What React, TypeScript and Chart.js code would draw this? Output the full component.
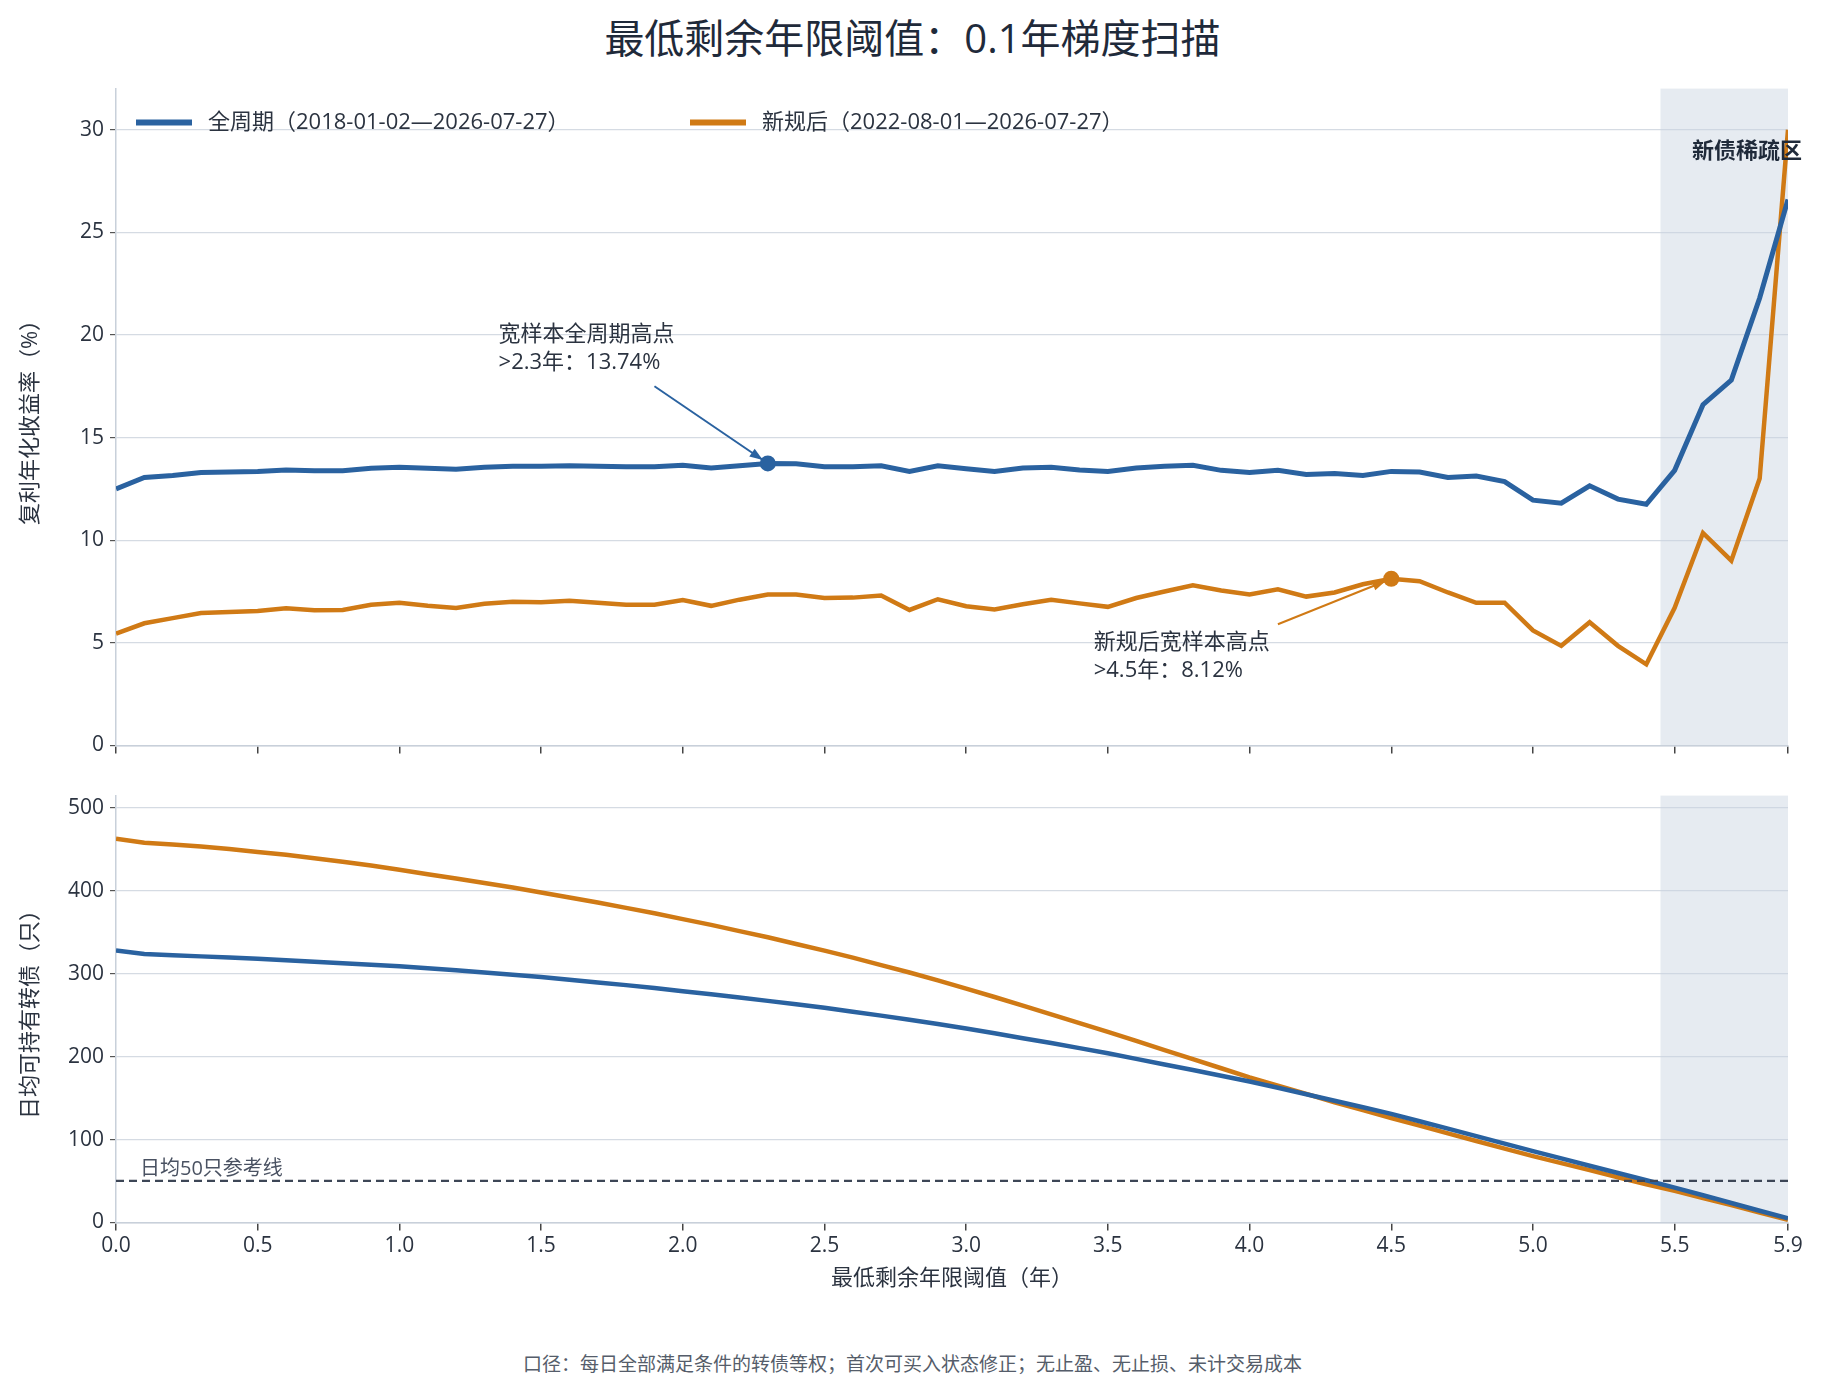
import React, { useEffect, useRef } from "react";
import { Chart, registerables } from "chart.js";
Chart.register(...registerables);

const xs = Array.from({ length: 60 }, (_, i) => i / 10);
const fullReturn = [12.5,13.05,13.15,13.3,13.32,13.35,13.42,13.38,13.38,13.5,13.55,13.5,13.45,13.55,13.6,13.6,13.62,13.6,13.58,13.58,13.65,13.52,13.62,13.74,13.72,13.58,13.58,13.62,13.35,13.62,13.48,13.35,13.52,13.55,13.42,13.35,13.52,13.6,13.65,13.4,13.3,13.4,13.2,13.25,13.15,13.35,13.32,13.05,13.12,12.85,11.95,11.8,12.65,12.0,11.75,13.4,16.6,17.8,21.8,26.6];
const newReturn = [5.45,5.95,6.2,6.45,6.5,6.55,6.68,6.58,6.6,6.85,6.95,6.8,6.7,6.9,7.0,6.97,7.05,6.95,6.85,6.85,7.08,6.8,7.1,7.35,7.35,7.18,7.2,7.3,6.6,7.12,6.78,6.62,6.88,7.1,6.92,6.75,7.18,7.5,7.8,7.55,7.35,7.6,7.25,7.45,7.85,8.12,8.0,7.45,6.95,6.95,5.6,4.85,6.0,4.85,3.95,6.7,10.35,9.0,13.0,30.0];
const fullCount = [328,324,322.5,321,319.5,318,316.3,314.5,312.7,310.9,309,306.6,304.2,301.6,298.9,296,292.8,289.6,286.3,282.8,279,275.2,271.3,267.3,263.2,259,254.3,249.5,244.6,239.4,234,228.2,222.3,216.4,210.3,204,197.3,190.6,183.8,176.9,170,162.4,154.6,146.8,139,131,122.1,113.1,104.1,95.1,86,77.2,68.3,59.6,50.8,42,32.8,23.4,14.1,5];
const newCount = [463,458,456,453.5,450.5,447,443.5,439.5,435.3,430.6,425.5,420,415,409.5,404,398,392,386,379.5,373,366,359,351.5,344,336,328,319.5,310.5,301.5,292,282,272,261.5,251,240.5,230,219,208,197,186,175,165,155,145,135.5,126,116.8,107.5,98.2,89,80,71.5,63,54.5,46,38,29.5,21,12,3];
const xTicks = [0,0.5,1,1.5,2,2.5,3,3.5,4,4.5,5,5.5,5.9];
const yTicksTop = [0,5,10,15,20,25,30];
const yTicksBottom = [0,100,200,300,400,500];
const sparseStart = 5.45;

const BLUE = "#2a62a0";
const ORANGE = "#d07a15";
const FONT = "'Open Sans', 'Noto Sans CJK SC', sans-serif";
const TXT = "#2b3340";
const GRID = "#d5dbe3";

function pts(v: number[]) { return v.map((y, i) => ({ x: xs[i], y })); }

const shade = {
  id: "shade",
  beforeDatasetsDraw(c: any) {
    const { ctx, chartArea: a, scales } = c;
    const x0 = scales.x.getPixelForValue(sparseStart);
    ctx.save();
    ctx.fillStyle = "rgba(200,210,225,0.45)";
    ctx.fillRect(x0, a.top, a.right - x0, a.bottom - a.top);
    ctx.restore();
  },
};

function xScale(showLabels: boolean) {
  return {
    type: "linear", min: 0, max: 5.9,
    afterBuildTicks: (s: any) => { s.ticks = xTicks.map((v) => ({ value: v })); },
    grid: { display: true, drawOnChartArea: false, drawTicks: true, tickLength: 8, color: "#444", lineWidth: 1.5 },
    border: { color: "#c8d0da", width: 1.5 },
    ticks: { display: showLabels, autoSkip: false, maxRotation: 0, color: TXT, font: { family: FONT, size: 21 }, callback: (v: any) => Number(v).toFixed(1) },
    title: showLabels ? { display: true, text: "最低剩余年限阈值（年）", color: TXT, font: { family: FONT, size: 22 }, padding: { top: 4 } } : { display: false },
  };
}
function yScale(min: number, max: number, ticks: number[], title: string) {
  return {
    min, max,
    afterBuildTicks: (s: any) => { s.ticks = ticks.map((v) => ({ value: v })); },
    afterFit: (s: any) => { s.width = 98; },
    ticks: { color: TXT, font: { family: FONT, size: 21 }, padding: 6 },
    grid: { color: GRID, lineWidth: 1.2, tickLength: 6, tickColor: "#555" },
    border: { color: "#c8d0da", width: 1.5 },
    title: { display: true, text: title, color: TXT, font: { family: FONT, size: 22 }, padding: 0 },
  };
}

const topDeco = {
  id: "topDeco",
  afterDatasetsDraw(c: any) {
    const { ctx, chartArea: a, scales: { x, y } } = c;
    ctx.save();
    ctx.font = `22px ${FONT}`;
    ctx.textBaseline = "middle";
    const ly = a.top + 34;
    ctx.lineWidth = 6;
    ctx.strokeStyle = BLUE; ctx.beginPath(); ctx.moveTo(a.left + 20, ly); ctx.lineTo(a.left + 76, ly); ctx.stroke();
    ctx.fillStyle = TXT; ctx.fillText("全周期（2018-01-02—2026-07-27）", a.left + 92, ly);
    const l2 = a.left + 574;
    ctx.strokeStyle = ORANGE; ctx.beginPath(); ctx.moveTo(l2, ly); ctx.lineTo(l2 + 56, ly); ctx.stroke();
    ctx.fillText("新规后（2022-08-01—2026-07-27）", l2 + 72, ly);
    ctx.font = `bold 22px ${FONT}`;
    ctx.textAlign = "right";
    ctx.fillStyle = "#1f2a3a";
    ctx.fillText("新债稀疏区", a.right + 14, y.getPixelForValue(28.9));
    const annot = (xv: number, yv: number, color: string, tx: number, ty: number, lines: string[], ax: number, ay: number) => {
      const px = x.getPixelForValue(xv), py = y.getPixelForValue(yv);
      const sx = x.getPixelForValue(ax), sy = y.getPixelForValue(ay);
      ctx.strokeStyle = color; ctx.fillStyle = color; ctx.lineWidth = 2;
      const ang = Math.atan2(py - sy, px - sx);
      const ex = px - Math.cos(ang) * 6, ey = py - Math.sin(ang) * 6;
      ctx.beginPath(); ctx.moveTo(sx, sy); ctx.lineTo(ex, ey); ctx.stroke();
      ctx.beginPath();
      ctx.moveTo(ex, ey);
      ctx.lineTo(ex - Math.cos(ang - 0.35) * 14, ey - Math.sin(ang - 0.35) * 14);
      ctx.lineTo(ex - Math.cos(ang + 0.35) * 14, ey - Math.sin(ang + 0.35) * 14);
      ctx.closePath(); ctx.fill();
      ctx.beginPath(); ctx.arc(px, py, 8, 0, Math.PI * 2); ctx.fill();
      ctx.fillStyle = TXT; ctx.font = `22px ${FONT}`; ctx.textAlign = "left"; ctx.textBaseline = "middle";
      lines.forEach((l, i) => ctx.fillText(l, x.getPixelForValue(tx), y.getPixelForValue(ty) + i * 28));
    };
    annot(2.3, 13.74, BLUE, 1.35, 20.0, ["宽样本全周期高点", ">2.3年：13.74%"], 1.9, 17.5);
    annot(4.5, 8.12, ORANGE, 3.45, 5.0, ["新规后宽样本高点", ">4.5年：8.12%"], 4.1, 5.9);
    ctx.restore();
  },
};

const botDeco = {
  id: "botDeco",
  afterDatasetsDraw(c: any) {
    const { ctx, chartArea: a, scales: { y } } = c;
    const py = y.getPixelForValue(50);
    ctx.save();
    ctx.strokeStyle = "#3d4656"; ctx.lineWidth = 2.2; ctx.setLineDash([8, 5]);
    ctx.beginPath(); ctx.moveTo(a.left, py); ctx.lineTo(a.right, py); ctx.stroke();
    ctx.setLineDash([]);
    ctx.fillStyle = "#4a5262"; ctx.font = `20px ${FONT}`; ctx.textBaseline = "bottom";
    ctx.fillText("日均50只参考线", a.left + 24, py - 2);
    ctx.restore();
  },
};

function ds(label: string, data: number[], color: string, w: number) {
  return { label, data: pts(data), borderColor: color, backgroundColor: color, borderWidth: w, pointRadius: 0, tension: 0, fill: false };
}

export default function App() {
  const r1 = useRef<HTMLCanvasElement>(null);
  const r2 = useRef<HTMLCanvasElement>(null);
  useEffect(() => {
    const c1 = new Chart(r1.current!, {
      type: "line",
      data: { datasets: [ds("全周期", fullReturn, BLUE, 5), ds("新规后", newReturn, ORANGE, 4.5)] },
      options: {
        animation: false, responsive: false, maintainAspectRatio: false,
        layout: { padding: { left: 18, right: 37, top: 18, bottom: 0 } },
        plugins: { legend: { display: false }, tooltip: { enabled: false } },
        scales: { x: xScale(false) as any, y: yScale(0, 32, yTicksTop, "复利年化收益率（%）") as any },
      },
      plugins: [shade, topDeco],
    });
    const c2 = new Chart(r2.current!, {
      type: "line",
      data: { datasets: [ds("全周期", fullCount, BLUE, 4.5), ds("新规后", newCount, ORANGE, 4.5)] },
      options: {
        animation: false, responsive: false, maintainAspectRatio: false,
        layout: { padding: { left: 18, right: 37, top: 10, bottom: 0 } },
        plugins: { legend: { display: false }, tooltip: { enabled: false } },
        scales: { x: xScale(true) as any, y: yScale(0, 515, yTicksBottom, "日均可持有转债（只）") as any },
      },
      plugins: [shade, botDeco],
    });
    return () => { c1.destroy(); c2.destroy(); };
  }, []);
  return (
    <div style={{ position: "fixed", left: 0, top: 0, width: 1825, height: 1396, background: "#fff", fontFamily: FONT }}>
      <div style={{ position: "absolute", top: 7, width: "100%", textAlign: "center", fontSize: 40, color: "#1f2a3a" }}>最低剩余年限阈值：0.1年梯度扫描</div>
      <canvas ref={r1} width={1825} height={694} style={{ position: "absolute", left: 0, top: 70, width: 1825, height: 694 }} />
      <canvas ref={r2} width={1825} height={519} style={{ position: "absolute", left: 0, top: 777, width: 1825, height: 519 }} />
      <div style={{ position: "absolute", top: 1349, width: "100%", textAlign: "center", fontSize: 19, color: "#555d6a" }}>口径：每日全部满足条件的转债等权；首次可买入状态修正；无止盈、无止损、未计交易成本</div>
    </div>
  );
}
